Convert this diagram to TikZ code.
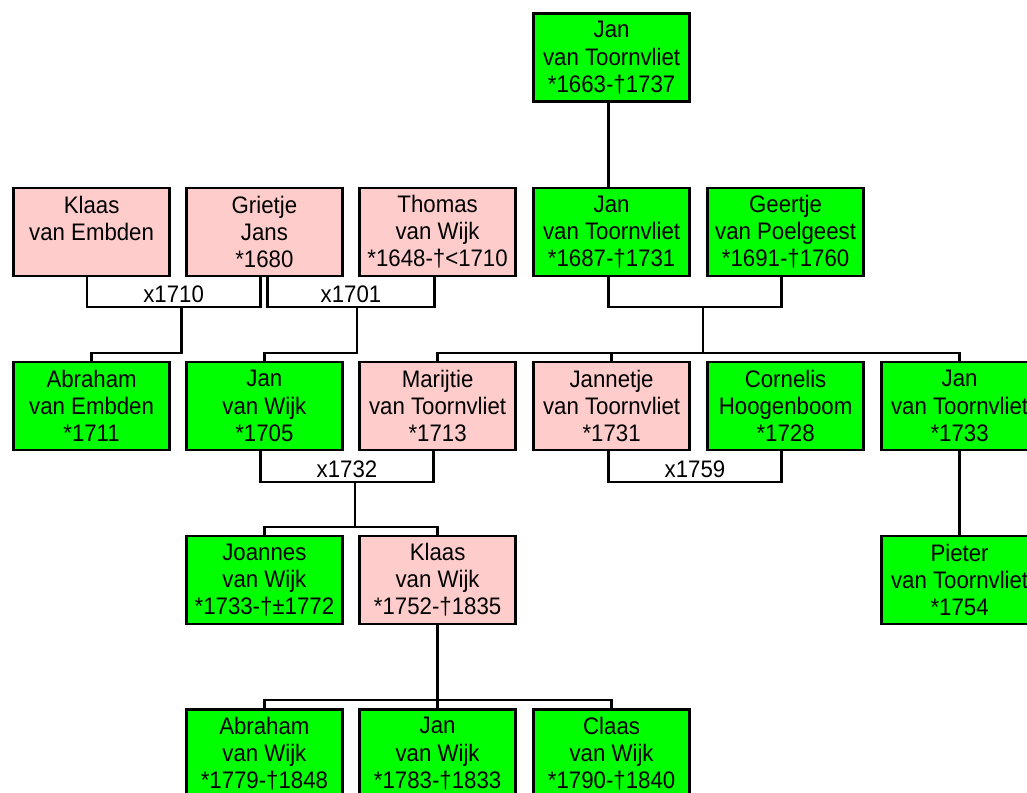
\documentclass[tikz,border=0pt]{standalone}
\usepackage{fontspec}
\setmainfont[FakeStretch=0.93]{Liberation Sans}
\definecolor{kingreen}{RGB}{0,255,0}
\definecolor{inlawpink}{RGB}{255,204,204}

\begin{document}
\begin{tikzpicture}[
	person/.style={draw, line width=1.9pt, minimum width=3.9cm, minimum height=2.2cm, inner sep=0pt, align=center, font=\fontsize{17}{19.3}\selectfont},
	kin/.style={person, fill=kingreen},
	inlaw/.style={person, fill=inlawpink},
	link/.style={line width=1.6pt},
	year/.style={above, inner sep=2.5pt, font=\fontsize{17}{19.3}\selectfont}]
	\useasboundingbox (0,0) rectangle (25.675,-19.825);
	\clip (0,0) rectangle (25.675,-19.825);
	\node[kin] (jan1) at (15.29, -1.44) {Jan\\van Toornvliet\\*1663-†1737};
		\node[inlaw] (klaas) at (2.29, -5.8) {Klaas\\van Embden\\\mbox{}};
		\node[inlaw] (grietje) at (6.61, -5.8) {Grietje\\Jans\\*1680};
		\node[inlaw] (thomas) at (10.94, -5.8) {Thomas\\van Wijk\\*1648-†<1710};
		\node[kin] (jan2) at (15.29, -5.8) {Jan\\van Toornvliet\\*1687-†1731};
		\node[kin] (geertje) at (19.64, -5.8) {Geertje\\van Poelgeest\\*1691-†1760};
			\node[kin] (abraham) at (2.29, -10.15) {Abraham\\van Embden\\*1711};
			\node[kin] (janW) at (6.61, -10.15) {Jan\\van Wijk\\*1705};
			\node[inlaw] (marijtie) at (10.94, -10.15) {Marijtie\\van Toornvliet\\*1713};
			\node[inlaw] (jannetje) at (15.29, -10.15) {Jannetje\\van Toornvliet\\*1731};
			\node[kin] (cornelis) at (19.64, -10.15) {Cornelis\\Hoogenboom\\*1728};
			\node[kin] (jan3) at (23.99, -10.15) {Jan\\van Toornvliet\\*1733};
				\node[kin] (joannes) at (6.61, -14.5) {Joannes\\van Wijk\\*1733-†±1772};
				\node[inlaw] (klaasW) at (10.94, -14.5) {Klaas\\van Wijk\\*1752-†1835};
				\node[kin] (pieter) at (23.99, -14.5) {Pieter\\van Toornvliet\\*1754};
					\node[kin] (abrahamW) at (6.61, -18.84) {Abraham\\van Wijk\\*1779-†1848};
					\node[kin] (janW2) at (10.94, -18.84) {Jan\\van Wijk\\*1783-†1833};
					\node[kin] (claasW) at (15.29, -18.84) {Claas\\van Wijk\\*1790-†1840};
	\draw[link] ([xshift=-0.08cm]jan1.south) -- ([xshift=-0.08cm]jan2.north);
	\draw[link] ([xshift=-0.12cm]klaas.south) -- ++(0,-0.75) -| node[year, pos=0.25] {x1710} coordinate[pos=0.25, xshift=0.2cm] (w1710) ([xshift=-0.1cm]grietje.south);
	\draw[link] ([xshift=0.08cm]grietje.south) -- ++(0,-0.75) -| node[year, pos=0.25] {x1701} coordinate[pos=0.25, xshift=0.15cm] (w1701) ([xshift=-0.08cm]thomas.south);
	\draw[link] ([xshift=-0.08cm]jan2.south) -- ++(0,-0.75) -| coordinate[pos=0.25, xshift=0.2cm] (w1710b) ([xshift=-0.1cm]geertje.south);
	\draw[link] (abraham.north) -- ++(0,0.2) -| (w1710);
	\draw[link] (janW.north) -- ++(0,0.2) -| (w1701);
	\draw[link] (marijtie.north) -- ++(0,0.2) -| (jan3.north);
	\draw[link] (jannetje.north) -- ++(0,0.2) -| (w1710b);
	\draw[link] ([xshift=-0.1cm]janW.south) -- ++(0,-0.77) -| node[year, pos=0.25] {x1732} coordinate[pos=0.25, xshift=0.2cm] (w1732) ([xshift=-0.1cm]marijtie.south);
	\draw[link] ([xshift=-0.08cm]jannetje.south) -- ++(0,-0.77) -| node[year, pos=0.25] {x1759} ([xshift=-0.1cm]cornelis.south);
	\draw[link] (joannes.north) -- ++(0,0.2) -| (w1732);
	\draw[link] (klaasW.north) -- ++(0,0.2) -| (w1732);
	\draw[link] (jan3.south) -- (pieter.north);
	\draw[link] (klaasW.south) -- (janW2.north);
	\draw[link] (abrahamW.north) -- ++(0,0.2) -| (claasW.north);
\end{tikzpicture}
\end{document}
